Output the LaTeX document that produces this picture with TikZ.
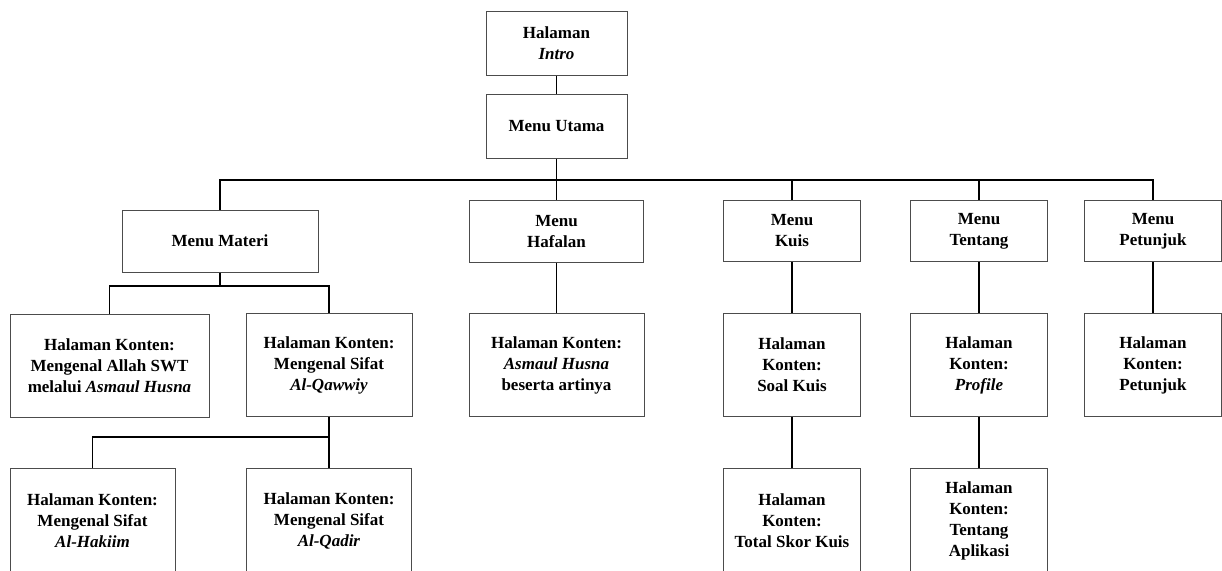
\documentclass[tikz,border=0pt]{standalone}
\usepackage{fontspec}
\setmainfont{Liberation Serif}
\usepackage{tikz}

\tikzset{
  box/.style={draw=black!70, line width=0.6pt, fill=white, align=center,
    inner sep=0pt, font=\fontsize{10.2}{12.6}\selectfont\bfseries},
  link/.style={draw=black, line width=0.9pt}
}

\begin{document}
\begin{tikzpicture}[x=0.6pt,y=-0.6pt]
            \clip (0,0) rectangle (1222,570);
            % top
            \node [box,minimum width=84.6pt,minimum height=38.4pt] (intro) at (556.5,43) {Halaman\\\textit{Intro}};
            \node [box,minimum width=84.6pt,minimum height=38.4pt] (utama) at (556.5,126) {Menu Utama};
            % menus
            \node [box,minimum width=117.6pt,minimum height=37.2pt] (materi) at (220,241) {Menu Materi};
            \node [box,minimum width=104.4pt,minimum height=37.2pt] (hafalan) at (556.5,231.5) {Menu\\Hafalan};
            \node [box,minimum width=82.2pt,minimum height=36.6pt] (kuis) at (792,231) {Menu\\Kuis};
            \node [box,minimum width=82.2pt,minimum height=36.6pt] (tentang) at (979,231) {Menu\\Tentang};
            \node [box,minimum width=82.2pt,minimum height=36.6pt] (petunjuk) at (1153,231) {Menu\\Petunjuk};
            % content pages
            \node [box,minimum width=119.4pt,minimum height=61.8pt] (allah) at (109.5,365.5) {Halaman Konten:\\Mengenal Allah SWT\\melalui \textit{Asmaul Husna}};
            \node [box,minimum width=99.6pt,minimum height=61.8pt] (qawwiy) at (329,365) {Halaman Konten:\\Mengenal Sifat\\\textit{Al-Qawwiy}};
            \node [box,minimum width=105pt,minimum height=61.8pt] (husna) at (556.5,365) {Halaman Konten:\\\textit{Asmaul Husna}\\beserta artinya};
            \node [box,minimum width=82.2pt,minimum height=61.8pt] (soal) at (792,365) {Halaman\\Konten:\\Soal Kuis};
            \node [box,minimum width=82.2pt,minimum height=61.8pt] (profile) at (979,365) {Halaman\\Konten:\\\textit{Profile}};
            \node [box,minimum width=82.2pt,minimum height=61.8pt] (petunjukisi) at (1153,365) {Halaman\\Konten:\\Petunjuk};
            % bottom row
            \node [box,minimum width=99pt,minimum height=62.4pt] (hakiim) at (92.5,520.5) {Halaman Konten:\\Mengenal Sifat\\\textit{Al-Hakiim}};
            \node [box,minimum width=99pt,minimum height=62.4pt] (qadir) at (329,520.5) {Halaman Konten:\\Mengenal Sifat\\\textit{Al-Qadir}};
            \node [box,minimum width=82.2pt,minimum height=62.4pt] (skor) at (792,520.5) {Halaman\\Konten:\\Total Skor Kuis};
            \node [box,minimum width=82.2pt,minimum height=62.4pt] (aplikasi) at (979,520.5) {Halaman\\Konten:\\Tentang\\Aplikasi};
            % connectors
            \coordinate (busa) at (556.5,180);
            \coordinate (busb) at (220,286);
            \coordinate (busc) at (329,437);
            \draw [link] (intro) -- (utama);
            \draw [link] (utama.south) -- (busa);
            \foreach \m in {materi,hafalan,kuis,tentang,petunjuk}
              \draw [link] (busa) -| (\m.north);
            \draw [link] (materi.south) -- (busb);
            \foreach \m in {allah,qawwiy}
              \draw [link] (busb) -| (\m.north);
            \draw [link] (qawwiy.south) -- (busc);
            \foreach \m in {hakiim,qadir}
              \draw [link] (busc) -| (\m.north);
            \draw [link] (hafalan) -- (husna);
            \draw [link] (kuis) -- (soal);
            \draw [link] (soal) -- (skor);
            \draw [link] (tentang) -- (profile);
            \draw [link] (profile) -- (aplikasi);
            \draw [link] (petunjuk) -- (petunjukisi);
        \end{tikzpicture}
\end{document}
